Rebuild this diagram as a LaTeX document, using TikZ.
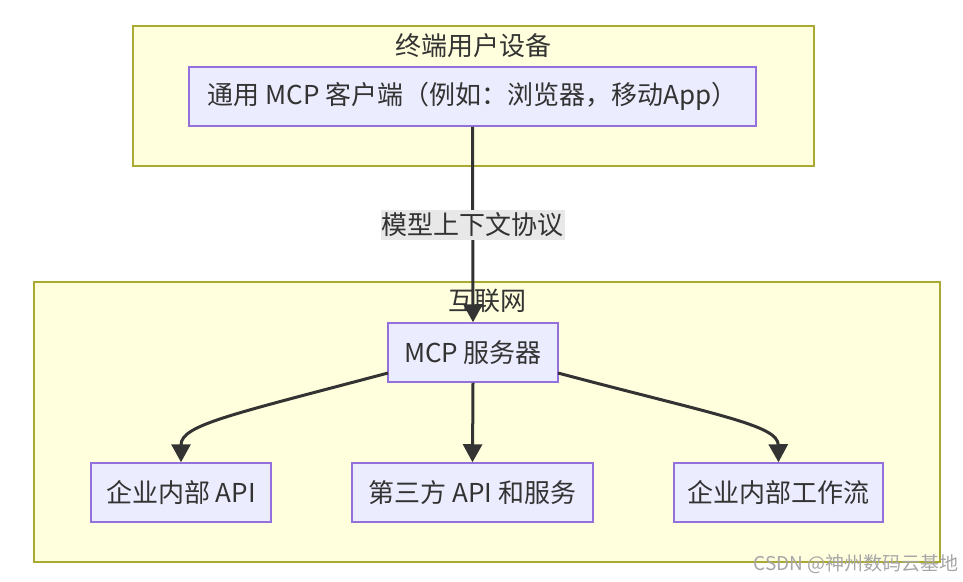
\documentclass[tikz,border=0pt]{standalone}
\usepackage{fontspec}
\setmainfont{Noto Sans CJK SC}
\usetikzlibrary{arrows.meta}
\definecolor{clfill}{HTML}{FFFFDE}
\definecolor{cldraw}{HTML}{AAAA33}
\definecolor{ndfill}{HTML}{ECECFF}
\definecolor{nddraw}{HTML}{9370DB}
\definecolor{txt}{HTML}{333333}
\definecolor{lblbg}{HTML}{E8E8E8}
\begin{document}
\begin{tikzpicture}[x=1pt,y=-1pt,
  font=\fontsize{26}{30}\selectfont,
  cluster/.style={draw=cldraw,fill=clfill,line width=1.5pt},
  nodebox/.style={draw=nddraw,fill=ndfill,line width=1.5pt,text=txt,minimum height=59pt,inner sep=0pt},
  ctitle/.style={text=txt,inner sep=0pt},
  conn/.style={draw=txt,line width=3pt,-{Triangle[length=18pt,width=19pt]}},
  elabel/.style={fill=lblbg,text=txt,inner sep=1pt,minimum height=30pt}]
\useasboundingbox (0,0) rectangle (963,581);
\fill[white] (0,0) rectangle (963,581);
% clusters
\draw[cluster] (133,26) rectangle (814,166);
\node[ctitle] (t1) at (473,46) {终端用户设备};
\draw[cluster] (34,282) rectangle (940,562);
\node[ctitle] (t2) at (487,301) {互联网};
% nodes
\node[nodebox,minimum width=567pt] (client) at (472.5,96.5) {通用 MCP 客户端（例如：浏览器，移动App）};
\node[nodebox,minimum width=170pt] (server) at (473,352.5) {MCP 服务器};
\node[nodebox,minimum width=180pt] (api) at (181,492.5) {企业内部 API};
\node[nodebox,minimum width=241pt] (third) at (472.5,492.5) {第三方 API 和服务};
\node[nodebox,minimum width=209pt] (flow) at (778.5,492.5) {企业内部工作流};
% connectors
\draw[conn] (client.south) -- (server.north)
  node[elabel,pos=0.5] (lbl) {模型上下文协议};
\draw[conn] (server.south) -- (third.north);
\coordinate (sl) at (388,373);
\coordinate (sr) at (558,373);
\draw[conn] (sl) .. controls (230,415) and (181,425) .. (api.north);
\draw[conn] (sr) .. controls (716,415) and (778,425) .. (flow.north);
% watermark
\node[text=black!35,font=\fontsize{19}{22}\selectfont,anchor=east,inner sep=0pt] (wm) at (959,564) {CSDN @神州数码云基地};
\end{tikzpicture}
\end{document}
